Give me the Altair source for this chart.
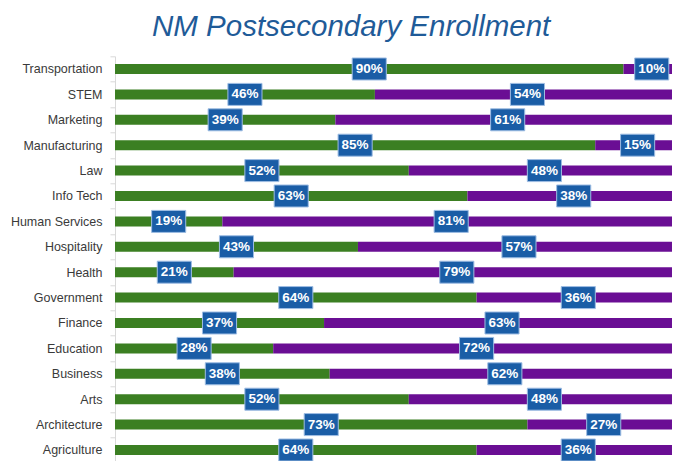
import altair as alt
import pandas as pd

categories = ["Transportation", "STEM", "Marketing", "Manufacturing", "Law", "Info Tech",
              "Human Services", "Hospitality", "Health", "Government", "Finance", "Education",
              "Business", "Arts", "Architecture", "Agriculture"]
green_pct = [90, 46, 39, 85, 52, 63, 19, 43, 21, 64, 37, 28, 38, 52, 73, 64]
purple_pct = [10, 54, 61, 15, 48, 38, 81, 57, 79, 36, 63, 72, 62, 48, 27, 36]

rows = []
for c, g, p in zip(categories, green_pct, purple_pct):
    tot = g + p
    gf = g / tot
    rows.append({"cat": c, "series": "A", "start": 0.0, "end": gf, "mid": gf / 2, "label": f"{g}%"})
    rows.append({"cat": c, "series": "B", "start": gf, "end": 1.0, "mid": gf + (1 - gf) / 2, "label": f"{p}%"})
df = pd.DataFrame(rows)

FONT = "Liberation Sans"

y = alt.Y("cat:N", sort=categories,
          scale=alt.Scale(paddingInner=0, paddingOuter=0),
          axis=alt.Axis(title=None, labelFont=FONT, labelFontSize=12.5, labelColor="#3A3A3A",
                        domainColor="#D9D9D9", tickColor="#D9D9D9", tickSize=5,
                        tickBand="extent", labelPadding=8))
# the full bar runs slightly past the visible right edge, as in the reference
xs = alt.Scale(domain=[0, 557 / 565], nice=False, zero=False)

base = alt.Chart(df)
bars = base.mark_bar(size=10, clip=True).encode(
    y=y,
    x=alt.X("start:Q", scale=xs, axis=None),
    x2="end:Q",
    color=alt.Color("series:N", scale=alt.Scale(domain=["A", "B"], range=["#3B7F22", "#6A0E94"]), legend=None),
)
boxes = base.mark_point(shape="M-1.55,-1H1.55V1H-1.55Z", size=484, filled=True, fill="#1A5DA6",
                        stroke="#9EBDE3", strokeWidth=1, opacity=1).encode(
    y=alt.Y("cat:N", sort=categories),
    x=alt.X("mid:Q", scale=xs),
)
texts = base.mark_text(font=FONT, fontSize=13.5, fontWeight="bold", color="white").encode(
    y=alt.Y("cat:N", sort=categories),
    x=alt.X("mid:Q", scale=xs),
    text="label:N",
)

chart = alt.layer(bars, boxes, texts).properties(
    width=557, height=406.4,
    title=alt.TitleParams("NM Postsecondary Enrollment", font=FONT, fontSize=29.5, fontStyle="italic",
                          fontWeight="normal", color="#1F5B98", anchor="middle", frame="bounds",
                          offset=8, dx=10),
    autosize=alt.AutoSizeParams(type="none"),
    padding={"left": 107, "top": 48.3, "right": 0, "bottom": 0},
).configure_view(stroke=None)

chart.save("out.html", embed_options={"renderer": "svg", "actions": False})
